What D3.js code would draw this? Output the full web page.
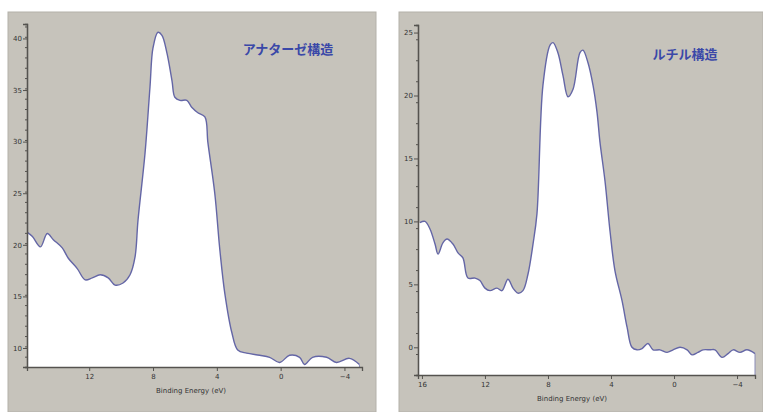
<!DOCTYPE html>
<html>
<head>
<meta charset="utf-8">
<script src="https://cdn.jsdelivr.net/npm/d3@7"></script>
<style>
  body { margin: 0; background: #fff; }
  svg { display: block; }
  .tick-label { font-family: "DejaVu Sans", sans-serif; font-size: 7px; fill: #333; }
  .axis-title { font-family: "DejaVu Sans", sans-serif; font-size: 7px; fill: #333; }
  .panel-title { font-family: "Noto Sans CJK JP", sans-serif; font-size: 13px; font-weight: bold; fill: #3a48a8; }
</style>
</head>
<body>
<div id="chart"></div>
<script>
// anatase spectrum (binding energy eV, intensity)
var anataseEnergy = [15.88, 15.56, 15.06, 14.63, 14.25, 13.69, 13.31, 12.75, 12.25, 11.81, 11.31, 10.81, 10.38, 9.88, 9.44, 9.13, 8.94, 8.5, 8.19, 8.0, 7.69, 7.44, 7.13, 6.81, 6.63, 6.31, 5.88, 5.56, 5.19, 4.75, 4.56, 4.13, 3.81, 3.5, 3.06, 2.69, 2.13, 1.31, 0.69, 0.06, -0.56, -1.19, -1.5, -2.0, -2.88, -3.5, -4.31, -4.94];
var anataseIntensity = [21.2, 20.8, 19.8, 21.1, 20.5, 19.7, 18.7, 17.7, 16.6, 16.8, 17.1, 16.8, 16.1, 16.3, 17.1, 18.8, 22.4, 28.9, 35.3, 39.1, 40.6, 40.3, 38.6, 35.9, 34.3, 34.0, 34.0, 33.3, 32.8, 32.4, 29.9, 25.0, 19.5, 15.3, 11.5, 9.8, 9.5, 9.3, 9.1, 8.6, 9.3, 9.1, 8.4, 9.1, 9.1, 8.6, 9.0, 8.4];

// rutile spectrum
var rutileEnergy = [16.13, 15.81, 15.49, 15.17, 14.98, 14.67, 14.41, 14.03, 13.71, 13.40, 13.08, 12.63, 12.32, 12.0, 11.68, 11.24, 10.92, 10.54, 10.22, 9.90, 9.59, 9.27, 8.95, 8.70, 8.32, 7.87, 7.68, 7.37, 7.05, 6.73, 6.41, 5.97, 5.78, 5.46, 5.14, 4.89, 4.70, 4.38, 4.06, 3.75, 3.30, 2.98, 2.67, 2.35, 2.03, 1.65, 1.33, 0.89, 0.44, 0.06, -0.38, -0.83, -1.14, -1.52, -1.84, -2.29, -2.60, -3.05, -3.43, -3.75, -4.19, -4.63, -5.14];
var rutileIntensity = [9.9, 10.0, 9.4, 8.2, 7.4, 8.3, 8.6, 8.2, 7.5, 7.1, 5.5, 5.5, 5.3, 4.7, 4.5, 4.7, 4.5, 5.4, 4.7, 4.3, 4.5, 5.8, 8.2, 10.6, 20.8, 24.0, 24.2, 23.4, 21.6, 19.9, 20.5, 23.4, 23.6, 22.6, 20.8, 18.7, 16.3, 13.2, 9.2, 6.1, 3.7, 1.6, 0.0, -0.2, -0.1, 0.3, -0.2, -0.2, -0.4, -0.2, 0.0, -0.2, -0.6, -0.4, -0.2, -0.2, -0.2, -0.8, -0.5, -0.2, -0.4, -0.2, -0.5];

var xTicks = [16, 12, 8, 4, 0, -4];
var anataseYTicks = [10, 15, 20, 25, 30, 35, 40];
var rutileYTicks = [0, 5, 10, 15, 20, 25];
var axisLabel = "Binding Energy (eV)";

var width = 763, height = 412;
var svg = d3.select("#chart").append("svg")
    .attr("width", width)
    .attr("height", height);

function drawPanel(p) {
    var g = svg.append("g");

    // panel frame
    g.append("rect")
        .attr("x", p.frame[0]).attr("y", p.frame[1])
        .attr("width", p.frame[2]).attr("height", p.frame[3])
        .attr("fill", "#c6c3bb")
        .attr("stroke", "#b4b1aa");

    var x = d3.scaleLinear().domain(p.xDomain).range([p.left, p.right]);
    var y = d3.scaleLinear().domain(p.yDomain).range([p.bottom, p.top]);

    var data = p.energy.map(function(e, i){ return {e: e, v: p.intensity[i]}; });
    // pad the ends so the fill reaches the axis
    var pts = [{e: p.xDomain[0], v: data[0].v}].concat(data);
    pts.push({e: data[data.length - 1].e, v: data[data.length - 1].v});

    var area = d3.area()
        .x(function(d){ return x(d.e); })
        .y0(p.bottom)
        .y1(function(d){ return y(d.v); })
        .curve(d3.curveCatmullRom.alpha(0.5));
    var line = d3.line()
        .x(function(d){ return x(d.e); })
        .y(function(d){ return y(d.v); })
        .curve(d3.curveCatmullRom.alpha(0.5));

    g.append("path").datum(pts).attr("d", area).attr("fill", "#ffffff");
    g.append("path").datum(data).attr("d", line)
        .attr("fill", "none")
        .attr("stroke", "#6466a6")
        .attr("stroke-width", 1.4);
    // right end drops to baseline
    var last = data[data.length - 1];
    g.append("line")
        .attr("x1", x(last.e)).attr("x2", x(last.e))
        .attr("y1", y(last.v)).attr("y2", p.bottom)
        .attr("stroke", "#8a8cb8").attr("stroke-width", 1);

    // axes
    var yAxis = d3.axisLeft(y).tickValues(p.yTicks).tickSize(4).tickFormat(d3.format("d"));
    var yMinor = d3.axisLeft(y).tickValues(d3.range(p.yDomain[0], p.yDomain[1], p.minorStep)).tickSize(2).tickFormat("");
    var xAxis = d3.axisBottom(x).tickValues(xTicks.filter(function(t){ return t <= p.xDomain[0] && t >= p.xDomain[1]; })).tickSize(4).tickFormat(d3.format("d"));

    var gy = g.append("g").attr("transform", "translate(" + p.left + ",0)").call(yAxis);
    g.append("g").attr("transform", "translate(" + p.left + ",0)").call(yMinor);
    var gx = g.append("g").attr("transform", "translate(0," + p.bottom + ")").call(xAxis);

    svg.selectAll(".domain").attr("stroke", "#55534f").attr("stroke-width", 1.3);
    svg.selectAll(".tick line").attr("stroke", "#55534f");
    gy.selectAll("text").attr("class", "tick-label").attr("x", -5);
    gx.selectAll("text").attr("class", "tick-label").attr("y", 7);

    g.append("text")
        .attr("class", "axis-title")
        .attr("x", p.labelX).attr("y", p.bottom + 26)
        .attr("text-anchor", "middle")
        .text(axisLabel);

    g.append("text")
        .attr("class", "panel-title")
        .attr("x", p.titleX).attr("y", p.titleY)
        .attr("text-anchor", "middle")
        .text(p.title);
}

drawPanel({
    frame: [8, 12, 368, 400],
    left: 27, right: 362, top: 24, bottom: 367,
    xDomain: [15.9, -5.1], yDomain: [8.16, 41.4],
    energy: anataseEnergy, intensity: anataseIntensity,
    yTicks: anataseYTicks, minorStep: 1,
    title: "アナターゼ構造", titleX: 288, titleY: 54,
    labelX: 191
});

drawPanel({
    frame: [399, 12, 364, 400],
    left: 418, right: 755, top: 25, bottom: 375,
    xDomain: [16.25, -5.14], yDomain: [-2.2, 25.6],
    energy: rutileEnergy, intensity: rutileIntensity,
    yTicks: rutileYTicks, minorStep: 5 / 3,
    title: "ルチル構造", titleX: 685, titleY: 59,
    labelX: 572
});
</script>
</body>
</html>
